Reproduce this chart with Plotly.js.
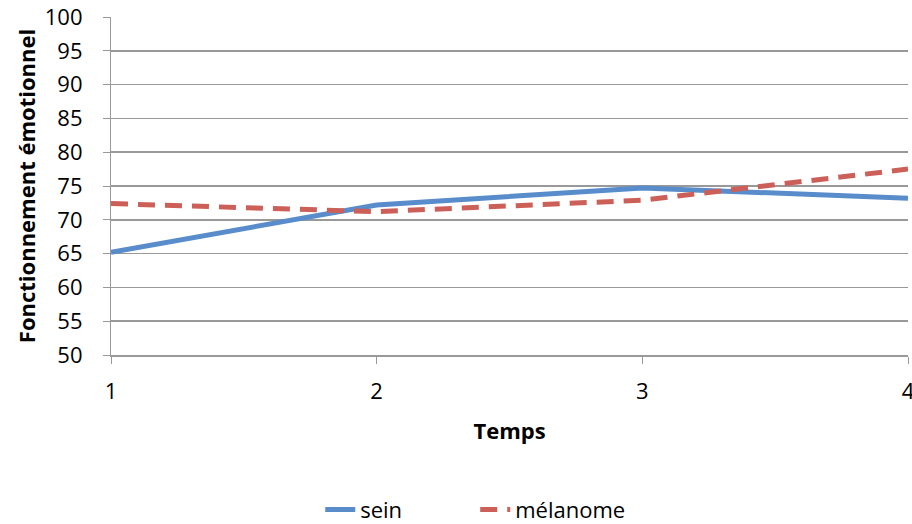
<!DOCTYPE html>
<html><head><meta charset="utf-8">
<script src="https://cdn.plot.ly/plotly-3.0.1.min.js"></script>
<style>html,body{margin:0;padding:0;background:#fff}#chart{width:912px;height:524px}</style>
</head><body><div id="chart"></div>
<script>
const temps = [1, 2, 3, 4];
const sein = [65.2, 72.2, 74.7, 73.2];
const melanome = [72.4, 71.2, 72.9, 77.5];
const yTicks = [50, 55, 60, 65, 70, 75, 80, 85, 90, 95, 100];

const font = "Open Sans, Liberation Sans, sans-serif";
const tf = {family: font, size: 22, color: '#000'};
const gray = '#999999';
const pad = '<span style="color:rgba(0,0,0,0)">..</span>';
const traces = [
  {x: temps, y: sein, name: 'sein', mode: 'lines', line: {color: '#588CCB', width: 5}},
  {x: temps, y: melanome, name: 'mélanome', mode: 'lines', line: {color: '#CD5F59', width: 5, dash: '17px,10px'}}
];
const layout = {
  width: 912, height: 524,
  margin: {l: 111, r: 4, t: 17, b: 169, autoexpand: false},
  paper_bgcolor: '#fff', plot_bgcolor: '#fff',
  font: tf,
  showlegend: true,
  legend: {orientation: 'h', x: 0.457, xanchor: 'center', y: -0.52, yanchor: 'bottom', font: tf,
           entrywidth: 110, entrywidthmode: 'pixels'},
  xaxis: {
    range: [1, 4], tickvals: temps, ticktext: temps.map(String), tickfont: tf,
    showgrid: false, zeroline: false, showline: true, linecolor: gray, linewidth: 1.5,
    ticks: 'outside', ticklen: 7, tickcolor: gray, ticklabeloverflow: 'allow', ticklabelstandoff: 9,
    title: {text: '<b>Temps</b>', font: tf, standoff: 19}
  },
  yaxis: {
    range: [50, 100], tickvals: yTicks, ticktext: yTicks.map(v => v + pad), tickfont: tf,
    showgrid: true, gridcolor: gray, gridwidth: 1.5, zeroline: false,
    showline: true, linecolor: gray, linewidth: 1.5,
    ticks: 'outside', ticklen: 7, tickcolor: gray, ticklabelstandoff: 4,
    title: {text: '<b>Fonctionnement émotionnel</b>', font: {family: font, size: 22, color: '#000'}, standoff: 3}
  }
};
Plotly.newPlot('chart', traces, layout, {displayModeBar: false, staticPlot: true});
</script></body></html>
